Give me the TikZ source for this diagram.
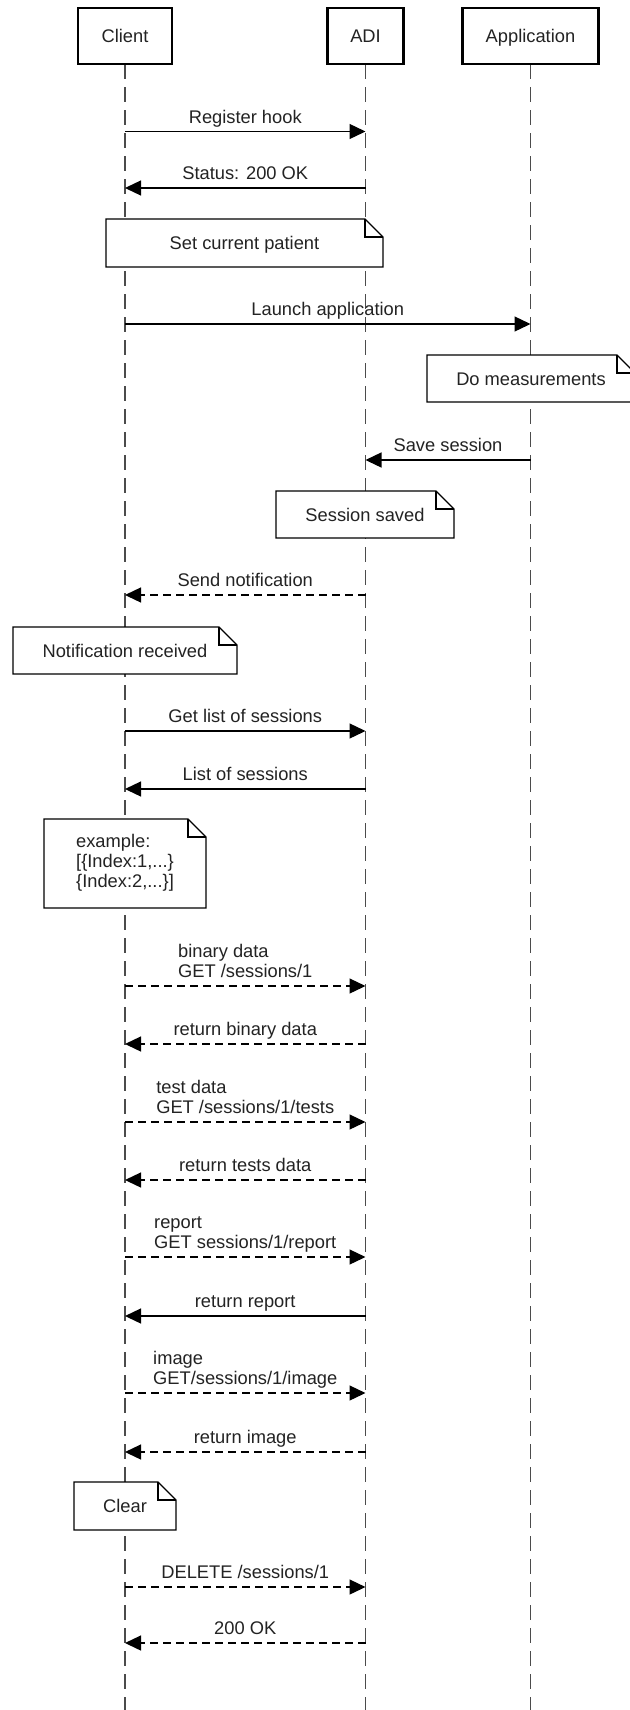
\documentclass[tikz,border=0pt]{standalone}
\usepackage{fontspec}
\setmainfont{Liberation Sans}
\usetikzlibrary{arrows.meta,backgrounds}
\definecolor{lifecol}{RGB}{75,75,75}
\definecolor{txtcol}{RGB}{35,35,35}
\newcommand{\msgfont}{\fontsize{18.3}{20}\selectfont}
\newcommand{\cx}{125}
\newcommand{\ax}{365.5}
\newcommand{\px}{530.5}
\newcommand{\msg}[6]{%
  \coordinate (#1s) at (#2,#4);
  \coordinate (#1e) at (#3,#4);
  \draw[#5] (#1s) -- (#1e);
  \node[msglab] (#1l) at ({(#2+#3)/2},{#4-8.5}) {#6};
}
\newcommand{\drawnote}[7][notesingle]{%
  \node[#1, minimum width=#5pt, minimum height=#6pt] (#2) at (#3,#4) {#7};
  \draw[noteline] (#2.south west) -- (#2.north west) -- ([xshift=-18pt]#2.north east)
     -- ([yshift=-18pt]#2.north east) -- (#2.south east) -- cycle;
  \draw[noteline] ([xshift=-18pt]#2.north east) -- ([xshift=-18pt,yshift=-18pt]#2.north east)
     -- ([yshift=-18pt]#2.north east);
}
\begin{document}
\begin{tikzpicture}[x=1pt,y=-1pt,
  actor/.style={draw=black, line width=2.6pt, fill=white, minimum height=56pt,
    inner sep=0pt, outer sep=0pt, text height=13.2pt, text depth=0pt,
    font=\msgfont, text=txtcol},
  lifeline/.style={draw=lifecol, line width=1.8pt, dash pattern=on 15pt off 8pt},
  notebase/.style={fill=white, inner sep=0pt, outer sep=0pt, font=\msgfont, text=txtcol},
  notesingle/.style={notebase, text height=13.2pt, text depth=0pt},
  noteline/.style={draw=black, line width=1.3pt, line join=miter},
  solidmsg/.style={draw=black, line width=1.3pt, -{Triangle[length=16pt,width=15pt]}},
  dashmsg/.style={solidmsg, dash pattern=on 8pt off 5pt},
  msglab/.style={anchor=base, inner sep=0pt, font=\msgfont, text=txtcol}
]
\useasboundingbox (0,0) rectangle (629,1710);

% header boxes
\node[actor, minimum width=94pt] (client) at (\cx,36) {Client};
\node[actor, minimum width=76pt] (adi) at (\ax,36) {ADI};
\node[actor, minimum width=136pt] (app) at (\px,36) {Application};

\coordinate (clientend) at (\cx,1710);
\coordinate (adiend) at (\ax,1710);
\coordinate (append) at (\px,1710);

\begin{pgfonlayer}{background}
  \fill[white] (0,0) rectangle (629,1710);
  \draw[lifeline] (client.south) -- (clientend);
  \draw[lifeline] (adi.south) -- (adiend);
  \draw[lifeline] (app.south) -- (append);
\end{pgfonlayer}

% messages and notes
\msg{m1}{\cx}{\ax}{131.5}{solidmsg}{Register hook}
\msg{m2}{\ax}{\cx}{188}{solidmsg}{Status: 200 OK}
\drawnote{setp}{244.5}{243}{277}{48}{Set current patient}
\msg{m3}{\cx}{\px}{324}{solidmsg}{Launch application}
\drawnote{dom}{531}{378.5}{208}{47}{Do measurements}
\msg{m4}{\px}{\ax}{460}{solidmsg}{Save session}
\drawnote{sess}{365}{514.5}{178}{47}{Session saved}
\msg{m5}{\ax}{\cx}{595}{dashmsg}{Send notification}
\drawnote{notif}{125}{650.5}{224}{47}{Notification received}
\msg{m6}{\cx}{\ax}{731}{solidmsg}{Get list of sessions}
\msg{m7}{\ax}{\cx}{789}{solidmsg}{List of sessions}
\drawnote[notebase]{example}{125}{863.5}{162}{89}{\raisebox{-3pt}{\begin{tabular}{@{}l@{}}example:\\ {[\{Index:1,...\}}\\ \{Index:2,...\}]\end{tabular}}}
\msg{m8}{\cx}{\ax}{986}{dashmsg}{\begin{tabular}[b]{@{}l@{}}binary data\\GET /sessions/1\end{tabular}}
\msg{m9}{\ax}{\cx}{1044}{dashmsg}{return binary data}
\msg{m10}{\cx}{\ax}{1122}{dashmsg}{\begin{tabular}[b]{@{}l@{}}test data\\GET /sessions/1/tests\end{tabular}}
\msg{m11}{\ax}{\cx}{1180}{dashmsg}{return tests data}
\msg{m12}{\cx}{\ax}{1257}{dashmsg}{\begin{tabular}[b]{@{}l@{}}report\\GET sessions/1/report\end{tabular}}
\msg{m13}{\ax}{\cx}{1316}{solidmsg}{return report}
\msg{m14}{\cx}{\ax}{1393}{dashmsg}{\begin{tabular}[b]{@{}l@{}}image\\GET/sessions/1/image\end{tabular}}
\msg{m15}{\ax}{\cx}{1452}{dashmsg}{return image}
\drawnote{clear}{125}{1506}{102}{48}{Clear}
\msg{m16}{\cx}{\ax}{1587}{dashmsg}{DELETE /sessions/1}
\msg{m17}{\ax}{\cx}{1643}{dashmsg}{200 OK}
\end{tikzpicture}
\end{document}
